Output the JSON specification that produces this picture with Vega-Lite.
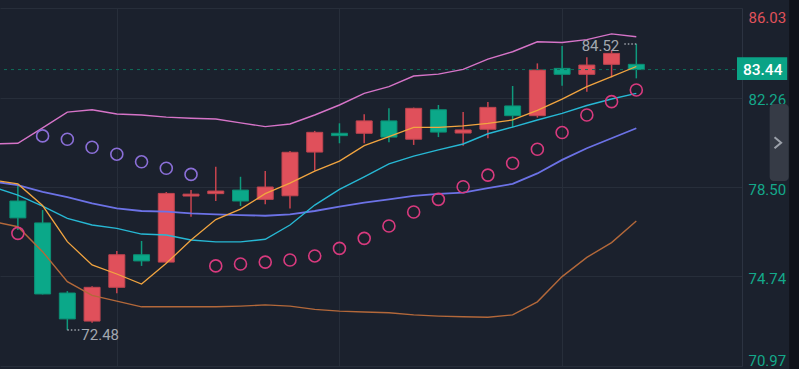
{
  "$schema": "https://vega.github.io/schema/vega-lite/v6.json",
  "width": 742,
  "height": 358,
  "autosize": {"type": "none"},
  "padding": {"left": 0, "top": 8, "right": 57, "bottom": 3},
  "background": "#1b212d",
  "config": {"view": {"stroke": null}},
  "data": {"values": [
    {"i": -1, "bu": 80.31, "m5": 78.79, "m10": 78.50, "m20": 78.73, "bd": 77.05},
    {"i": 0, "o": 77.91, "h": 78.63, "l": 76.69, "c": 77.20, "sar": 76.55, "bu": 80.34, "m5": 78.63, "m10": 78.16, "m20": 78.58, "bd": 76.83},
    {"i": 1, "o": 76.99, "h": 77.53, "l": 73.98, "c": 74.00, "sar": 80.65, "bu": 80.99, "m5": 77.72, "m10": 77.70, "m20": 78.30, "bd": 75.78},
    {"i": 2, "o": 74.04, "h": 74.12, "l": 72.48, "c": 72.95, "sar": 80.51, "bu": 81.65, "m5": 76.20, "m10": 77.18, "m20": 78.07, "bd": 74.52},
    {"i": 3, "o": 72.86, "h": 74.33, "l": 72.79, "c": 74.28, "sar": 80.17, "bu": 81.75, "m5": 75.22, "m10": 76.90, "m20": 77.81, "bd": 73.94},
    {"i": 4, "o": 74.28, "h": 75.81, "l": 74.03, "c": 75.65, "sar": 79.88, "bu": 81.57, "m5": 74.84, "m10": 76.76, "m20": 77.60, "bd": 73.70},
    {"i": 5, "o": 75.65, "h": 76.23, "l": 75.18, "c": 75.39, "sar": 79.56, "bu": 81.53, "m5": 74.42, "m10": 76.52, "m20": 77.49, "bd": 73.46},
    {"i": 6, "o": 75.34, "h": 78.29, "l": 75.30, "c": 78.23, "sar": 79.29, "bu": 81.44, "m5": 75.29, "m10": 76.48, "m20": 77.46, "bd": 73.46},
    {"i": 7, "o": 78.12, "h": 78.37, "l": 77.25, "c": 78.20, "sar": 79.03, "bu": 81.39, "m5": 76.27, "m10": 76.27, "m20": 77.39, "bd": 73.46},
    {"i": 8, "o": 78.22, "h": 79.35, "l": 77.91, "c": 78.33, "sar": 75.18, "bu": 81.36, "m5": 77.13, "m10": 76.19, "m20": 77.35, "bd": 73.46},
    {"i": 9, "o": 78.37, "h": 78.93, "l": 77.70, "c": 77.91, "sar": 75.26, "bu": 81.20, "m5": 77.57, "m10": 76.19, "m20": 77.32, "bd": 73.49},
    {"i": 10, "o": 77.98, "h": 79.17, "l": 77.77, "c": 78.50, "sar": 75.34, "bu": 81.04, "m5": 78.22, "m10": 76.30, "m20": 77.29, "bd": 73.54},
    {"i": 11, "o": 78.13, "h": 80.01, "l": 77.60, "c": 79.96, "sar": 75.43, "bu": 81.15, "m5": 78.66, "m10": 76.90, "m20": 77.35, "bd": 73.49},
    {"i": 12, "o": 79.97, "h": 80.86, "l": 79.19, "c": 80.80, "sar": 75.60, "bu": 81.53, "m5": 79.17, "m10": 77.74, "m20": 77.49, "bd": 73.35},
    {"i": 13, "o": 80.76, "h": 81.18, "l": 80.34, "c": 80.66, "sar": 75.92, "bu": 81.95, "m5": 79.59, "m10": 78.40, "m20": 77.67, "bd": 73.28},
    {"i": 14, "o": 80.76, "h": 81.56, "l": 80.34, "c": 81.28, "sar": 76.34, "bu": 82.44, "m5": 80.24, "m10": 78.93, "m20": 77.84, "bd": 73.24},
    {"i": 15, "o": 81.28, "h": 81.81, "l": 80.38, "c": 80.60, "sar": 76.86, "bu": 82.72, "m5": 80.62, "m10": 79.47, "m20": 77.98, "bd": 73.21},
    {"i": 16, "o": 80.51, "h": 81.84, "l": 80.27, "c": 81.81, "sar": 77.45, "bu": 83.17, "m5": 81.01, "m10": 79.80, "m20": 78.13, "bd": 73.12},
    {"i": 17, "o": 81.75, "h": 81.95, "l": 80.60, "c": 80.81, "sar": 77.98, "bu": 83.25, "m5": 81.01, "m10": 80.06, "m20": 78.21, "bd": 73.07},
    {"i": 18, "o": 80.77, "h": 81.66, "l": 80.24, "c": 80.90, "sar": 78.51, "bu": 83.45, "m5": 81.07, "m10": 80.31, "m20": 78.26, "bd": 73.04},
    {"i": 19, "o": 80.93, "h": 82.08, "l": 80.55, "c": 81.85, "sar": 79.00, "bu": 83.88, "m5": 81.18, "m10": 80.74, "m20": 78.45, "bd": 73.02},
    {"i": 20, "o": 81.91, "h": 82.75, "l": 81.01, "c": 81.50, "sar": 79.50, "bu": 84.19, "m5": 81.32, "m10": 81.02, "m20": 78.63, "bd": 73.12},
    {"i": 21, "o": 81.50, "h": 83.70, "l": 81.42, "c": 83.42, "sar": 80.09, "bu": 84.61, "m5": 81.72, "m10": 81.32, "m20": 79.07, "bd": 73.67},
    {"i": 22, "o": 83.49, "h": 84.43, "l": 82.76, "c": 83.24, "sar": 80.79, "bu": 84.58, "m5": 82.20, "m10": 81.60, "m20": 79.64, "bd": 74.73},
    {"i": 23, "o": 83.24, "h": 83.96, "l": 82.51, "c": 83.63, "sar": 81.53, "bu": 84.70, "m5": 82.72, "m10": 81.93, "m20": 80.13, "bd": 75.54},
    {"i": 24, "o": 83.66, "h": 84.26, "l": 83.11, "c": 84.12, "sar": 82.09, "bu": 84.94, "m5": 83.14, "m10": 82.20, "m20": 80.55, "bd": 76.16},
    {"i": 25, "o": 83.66, "h": 84.52, "l": 83.07, "c": 83.44, "sar": 82.58, "bu": 84.82, "m5": 83.57, "m10": 82.44, "m20": 80.97, "bd": 77.07}
  ]},
  "layer": [
    {
      "mark": {"type": "rule", "strokeWidth": 1.5},
      "encoding": {
        "x": {"field": "i", "type": "quantitative",
              "scale": {"domain": [-0.52, 29.07], "nice": false, "zero": false},
              "axis": {"orient": "bottom", "values": [4, 13, 22], "grid": true, "gridColor": "#272e3a", "gridWidth": 1, "labels": false, "ticks": false, "domain": false, "title": null}},
        "y": {"field": "l", "type": "quantitative",
              "scale": {"domain": [70.97, 86.03], "nice": false, "zero": false},
              "axis": {"orient": "right", "values": [70.97, 74.74, 78.5, 82.26, 86.03], "format": ".2f",
                       "grid": true, "gridColor": "#272e3a", "gridWidth": 1, "ticks": false,
                       "domain": true, "domainColor": "#2c3341", "labelPadding": 6,
                       "labelFont": "Roboto", "labelFontSize": 15, "labelFlush": true, "labelOffset": 2,
                       "labelColor": {"condition": {"test": "datum.value > 84", "value": "#e0525b"}, "value": "#14a88a"},
                       "title": null}},
        "y2": {"field": "h"},
        "color": {"condition": {"test": "datum.c >= datum.o", "value": "#c9444f"}, "value": "#0e9a7d"}
      }
    },
    {
      "mark": {"type": "bar", "width": 16, "strokeWidth": 1},
      "encoding": {
        "x": {"field": "i", "type": "quantitative"},
        "y": {"field": "o", "type": "quantitative"},
        "y2": {"field": "c"},
        "fill": {"condition": {"test": "datum.c >= datum.o", "value": "#e0505b"}, "value": "#0ba889"},
        "stroke": {"condition": {"test": "datum.c >= datum.o", "value": "#bf4550"}, "value": "#0c8f74"}
      }
    },
    {
      "data": {"values": [{"p": 83.44}]},
      "mark": {"type": "rule", "color": "#0f6e5b", "strokeDash": [3, 4], "strokeWidth": 1},
      "encoding": {"y": {"field": "p", "type": "quantitative"}}
    },
    {
      "mark": {"type": "line", "color": "#d674c8", "strokeWidth": 1.4, "clip": true},
      "encoding": {"x": {"field": "i", "type": "quantitative"}, "y": {"field": "bu", "type": "quantitative"}}
    },
    {
      "mark": {"type": "line", "color": "#b3683a", "strokeWidth": 1.4, "clip": true},
      "encoding": {"x": {"field": "i", "type": "quantitative"}, "y": {"field": "bd", "type": "quantitative"}}
    },
    {
      "mark": {"type": "line", "color": "#6c72e6", "strokeWidth": 1.8, "clip": true},
      "encoding": {"x": {"field": "i", "type": "quantitative"}, "y": {"field": "m20", "type": "quantitative"}}
    },
    {
      "mark": {"type": "line", "color": "#27b8d4", "strokeWidth": 1.4, "clip": true},
      "encoding": {"x": {"field": "i", "type": "quantitative"}, "y": {"field": "m10", "type": "quantitative"}}
    },
    {
      "mark": {"type": "line", "color": "#f2a540", "strokeWidth": 1.3, "clip": true},
      "encoding": {"x": {"field": "i", "type": "quantitative"}, "y": {"field": "m5", "type": "quantitative"}}
    },
    {
      "mark": {"type": "point", "shape": "circle", "filled": false, "size": 144, "strokeWidth": 1.6, "opacity": 1},
      "encoding": {
        "x": {"field": "i", "type": "quantitative"},
        "y": {"field": "sar", "type": "quantitative"},
        "stroke": {"condition": {"test": "datum.sar > datum.h", "value": "#8b6fd8"}, "value": "#d83a7e"}
      }
    },
    {
      "data": {"values": [{"i": 25, "v": 84.52}]},
      "layer": [
        {
          "mark": {"type": "rule", "color": "#9ba0a8", "strokeDash": [1.5, 2], "strokeWidth": 1.5, "x2Offset": -13},
          "encoding": {"x": {"field": "i", "type": "quantitative"}, "x2": {"field": "i"}, "y": {"field": "v", "type": "quantitative"}}
        },
        {
          "mark": {"type": "text", "align": "right", "baseline": "middle", "dx": -17, "dy": 2.5, "font": "Roboto", "fontSize": 15, "color": "#a3a8b0"},
          "encoding": {"x": {"field": "i", "type": "quantitative"}, "y": {"field": "v", "type": "quantitative"}, "text": {"field": "v", "type": "quantitative", "format": ".2f"}}
        }
      ]
    },
    {
      "data": {"values": [{"i": 2, "v": 72.48}]},
      "layer": [
        {
          "mark": {"type": "rule", "color": "#9ba0a8", "strokeDash": [1.5, 2], "strokeWidth": 1.5, "x2Offset": 12},
          "encoding": {"x": {"field": "i", "type": "quantitative"}, "x2": {"field": "i"}, "y": {"field": "v", "type": "quantitative"}}
        },
        {
          "mark": {"type": "text", "align": "left", "baseline": "middle", "dx": 14, "dy": 4.5, "font": "Roboto", "fontSize": 15, "color": "#a3a8b0"},
          "encoding": {"x": {"field": "i", "type": "quantitative"}, "y": {"field": "v", "type": "quantitative"}, "text": {"field": "v", "type": "quantitative", "format": ".2f"}}
        }
      ]
    },
    {
      "data": {"values": [{"p": 83.44}]},
      "layer": [
        {
          "mark": {"type": "rect", "color": "#0aa386"},
          "encoding": {"x": {"datum": 29.07}, "x2": {"datum": 31.1}, "y": {"datum": 83.96}, "y2": {"datum": 83.0}}
        },
        {
          "mark": {"type": "text", "align": "left", "baseline": "middle", "font": "Roboto", "fontSize": 15.5, "fontWeight": 500, "color": "#ffffff"},
          "encoding": {"x": {"datum": 29.31}, "y": {"field": "p", "type": "quantitative"}, "text": {"field": "p", "type": "quantitative", "format": ".2f"}}
        }
      ]
    },
    {
      "data": {"values": [{"p": 80.36}]},
      "layer": [
        {
          "mark": {"type": "rect", "color": "#363b46", "cornerRadius": 4},
          "encoding": {"x": {"datum": 30.39}, "x2": {"datum": 31.16}, "y": {"datum": 81.99}, "y2": {"datum": 78.75}}
        },
        {
          "mark": {"type": "point", "shape": "M-0.6,-1L0.6,0L-0.6,1", "filled": false, "size": 121, "strokeWidth": 2, "color": "#9ca1aa", "opacity": 1},
          "encoding": {"x": {"datum": 30.72}, "y": {"field": "p", "type": "quantitative"}}
        }
      ]
    },
    {
      "data": {"values": [{"p": 0}]},
      "mark": {"type": "rect", "color": "#0f1219"},
      "encoding": {"x": {"datum": 31.18}, "x2": {"datum": 31.6}, "y": {"datum": 86.5}, "y2": {"datum": 70.6}}
    }
  ]
}
